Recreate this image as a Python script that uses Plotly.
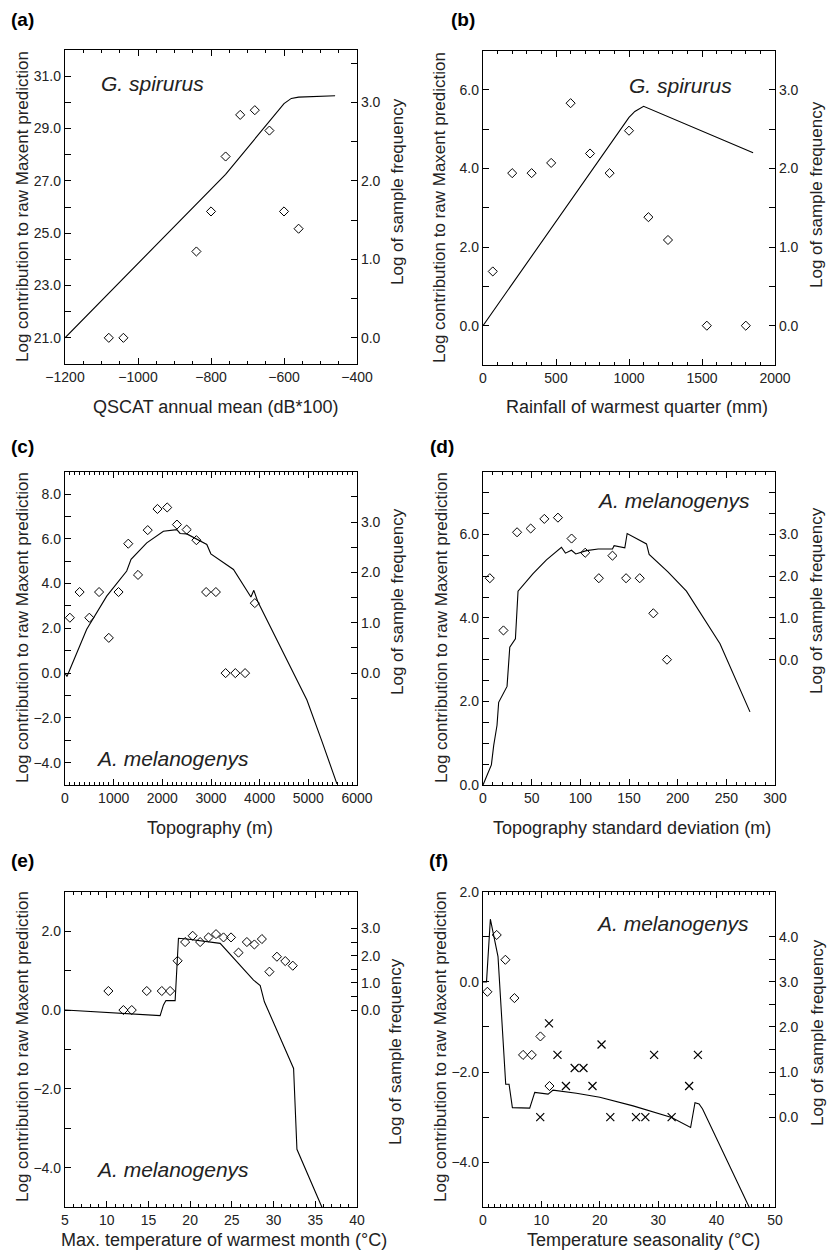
import plotly.graph_objects as go

# ---------------- data ----------------
# (a) QSCAT annual mean
a_line_x = [-1200, -1000, -760, -600, -580, -560, -460]
a_line_y = [21.0, 23.85, 27.25, 29.95, 30.15, 30.2, 30.25]
a_bins = [-1080, -1040, -840, -800, -760, -720, -680, -640, -600, -560]
a_freq = [0.0, 0.0, 1.10, 1.61, 2.31, 2.84, 2.90, 2.64, 1.61, 1.39]

# (b) Rainfall of warmest quarter
b_line_x = [0, 1000, 1040, 1100, 1850]
b_line_y = [0.0, 5.3, 5.45, 5.58, 4.4]
b_bins = [67, 200, 333, 467, 600, 733, 867, 1000, 1133, 1267, 1533, 1800]
b_freq = [0.69, 1.94, 1.94, 2.07, 2.83, 2.19, 1.94, 2.48, 1.38, 1.09, 0.0, 0.0]

# (c) Topography
c_line_x = [0, 40, 446, 857, 1268, 1357, 1680, 2022, 2297, 2365, 2503, 2708, 2914,
            2997, 3462, 3820, 3880, 3960, 4354, 4650, 4971, 5280, 5588]
c_line_y = [0.0, -0.15, 1.96, 3.44, 4.56, 5.08, 5.82, 6.34, 6.41, 6.24, 6.22, 5.97, 5.75,
            5.33, 4.63, 3.4, 3.7, 3.2, 1.51, 0.21, -1.2, -3.05, -4.95]
c_bins = [100, 300, 500, 700, 900, 1100, 1300, 1500, 1700, 1900, 2100, 2300, 2500,
          2700, 2900, 3100, 3300, 3500, 3700, 3900]
c_freq = [1.10, 1.61, 1.10, 1.61, 0.70, 1.61, 2.57, 1.95, 2.84, 3.26, 3.29, 2.95, 2.85,
          2.64, 1.61, 1.61, 0.0, 0.0, 0.0, 1.39]

# (d) Topography standard deviation
d_line_x = [0, 3.5, 8.6, 11, 14.4, 16.1, 24.7, 27.5, 33.3, 36, 51.4, 65.2, 80.6, 84.7,
            90.9, 95.3, 106.3, 118.3, 133, 134.7, 145.7, 148.1, 168, 170.7, 190, 209, 243.5, 274.3]
d_line_y = [0.0, 0.2, 0.48, 0.95, 1.43, 1.98, 2.36, 3.30, 3.5, 4.64, 5.06, 5.39, 5.69, 5.55,
            5.62, 5.53, 5.61, 5.65, 5.65, 5.73, 5.68, 6.02, 5.77, 5.52, 5.1, 4.64, 3.38, 1.75]
d_bins = [7, 21, 35, 49, 63, 77, 91, 105, 119, 133, 147, 161, 175, 189]
d_freq = [1.95, 0.70, 3.05, 3.14, 3.37, 3.40, 2.90, 2.56, 1.95, 2.49, 1.95, 1.95, 1.11, 0.0]

# (e) Max. temperature of warmest month
e_line_x = [5, 16.4, 16.8, 17.1, 18.2, 18.6, 19.6, 23.6, 27.6, 28.4, 28.9, 32.4, 32.8, 35.8]
e_line_y = [0.0, -0.14, 0.13, 0.24, 0.24, 1.82, 1.80, 1.69, 0.76, 0.62, 0.21, -1.48, -3.53, -5.0]
e_bins = [10.2, 12.0, 13.0, 14.8, 16.6, 17.6, 18.5, 19.4, 20.3, 21.2, 22.2, 23.1, 24.0,
          24.9, 25.8, 26.8, 27.7, 28.6, 29.5, 30.4, 31.4, 32.3]
e_freq = [0.70, 0.0, 0.0, 0.70, 0.70, 0.70, 1.81, 2.50, 2.73, 2.50, 2.67, 2.79, 2.67,
          2.67, 2.11, 2.50, 2.41, 2.61, 1.41, 1.96, 1.80, 1.63]

# (f) Temperature seasonality
f_line_x = [0, 0.6, 1.26, 2.57, 3.89, 4.46, 5.03, 8.0, 8.86, 11.15, 12.0, 16.0, 20.0,
            25.7, 32.3, 35.55, 36.3, 37.0, 37.6, 45.7]
f_line_y = [0.0, 0.0, 1.39, 0.56, -2.27, -2.27, -2.79, -2.80, -2.45, -2.49, -2.40, -2.47, -2.56,
            -2.75, -3.01, -3.23, -2.68, -2.71, -2.82, -5.03]
f_bins_d = [0.75, 2.35, 3.83, 5.38, 6.86, 8.35, 9.83, 11.38]
f_freq_d = [2.78, 4.04, 3.49, 2.64, 1.38, 1.38, 1.79, 0.69]
f_bins_x = [9.8, 11.3, 12.75, 14.2, 15.7, 17.2, 18.75, 20.3, 21.8, 26.2, 27.8, 29.3, 32.3, 35.3, 36.8]
f_freq_x = [0.0, 2.08, 1.38, 0.69, 1.09, 1.09, 0.69, 1.61, 0.0, 0.0, 0.0, 1.38, 0.0, 0.69, 1.38]

panel_labels = ["(a)", "(b)", "(c)", "(d)", "(e)", "(f)"]
species = ["G. spirurus", "G. spirurus", "A. melanogenys", "A. melanogenys",
           "A. melanogenys", "A. melanogenys"]
x_titles = ["QSCAT annual mean (dB*100)", "Rainfall of warmest quarter (mm)",
            "Topography (m)", "Topography standard deviation (m)",
            "Max. temperature of warmest month (°C)", "Temperature seasonality (°C)"]
left_title = "Log contribution to raw Maxent prediction"
right_title = "Log of sample frequency"

# ---------------- layout geometry ----------------
W, H = 833, 1253
FONT = "Liberation Sans, Arial, Helvetica, sans-serif"
TXT = "#222222"

panels = [
    dict(box=(65, 357, 50, 364), xr=[-1200, -400], xd=200, xm=50,
         lr=[20, 32], lt=[21, 23, 25, 27, 29, 31], lm=[20, 22, 24, 26, 28, 30, 32],
         rr=[-1/3, 11/3], rt=[0, 1, 2, 3], rm=[0.5, 1.5, 2.5, 3.5],
         lab=(22, 19), sp=(152, 83), ltx=22, lty=207, rtx=397, rty=192, xtx=215, xty=407),
    dict(box=(483, 775, 50.5, 365), xr=[0, 2000], xd=500, xm=100,
         lr=[-1, 7], lt=[0, 2, 4, 6], lm=[-1, 1, 3, 5, 7],
         rr=[-0.5, 3.5], rt=[0, 1, 2, 3], rm=[-0.5, 0.5, 1.5, 2.5, 3.5],
         lab=(463, 19), sp=(680, 85), ltx=439, lty=207, rtx=816, rty=195, xtx=637, xty=407),
    dict(box=(65, 357, 471.7, 785), xr=[0, 6000], xd=1000, xm=100,
         lr=[-5, 9], lt=[-4, -2, 0, 2, 4, 6, 8], lm=[-5, -3, -1, 1, 3, 5, 7, 9],
         rr=[-5/2.25, 4.0], rt=[0, 1, 2, 3], rm=[-0.5, 0.5, 1.5, 2.5, 3.5],
         lab=(22, 446), sp=(172, 758), ltx=22, lty=628, rtx=397, rty=602, xtx=210, xty=828),
    dict(box=(483, 775, 471.7, 785), xr=[0, 300], xd=50, xm=10,
         lr=[0, 7.5], lt=[0, 2, 4, 6], lm=[0.5, 1, 1.5, 2.5, 3, 3.5, 4.5, 5, 5.5, 6.5, 7, 7.5],
         rr=[-3, 4.5], rt=[0, 1, 2, 3], rm=[0.5, 1.5, 2.5, 3.5, 4.0],
         lab=(442, 446), sp=(673, 500), ltx=441, lty=628, rtx=816, rty=601, xtx=632, xty=828),
    dict(box=(65, 357, 891.7, 1207.3), xr=[5, 40], xd=5, xm=1,
         lr=[-5, 3], lt=[-4, -2, 0, 2], lm=[-5, -3, -1, 1, 3],
         rr=[-5*1.45, 3*1.45], rt=[0, 1, 2, 3], rm=[0.5, 1.5, 2.5],
         lab=(22, 860), sp=(172, 1169), ltx=22, lty=1047, rtx=395, rty=1052, xtx=224, xty=1240),
    dict(box=(483, 775, 891.7, 1207.3), xr=[0, 50], xd=10, xm=1,
         lr=[-5, 2], lt=[-4, -2, 0, 2], lm=[-5, -3, -1, 1],
         rr=[-2, 5], rt=[0, 1, 2, 3, 4], rm=[0.5, 1.5, 2.5, 3.5],
         lab=(438, 860), sp=(672, 923), ltx=440, lty=1047, rtx=817, rty=1033, xtx=643, xty=1240),
]

lines = [(a_line_x, a_line_y), (b_line_x, b_line_y), (c_line_x, c_line_y),
         (d_line_x, d_line_y), (e_line_x, e_line_y), (f_line_x, f_line_y)]
points = [(a_bins, a_freq), (b_bins, b_freq), (c_bins, c_freq),
          (d_bins, d_freq), (e_bins, e_freq), (f_bins_d, f_freq_d)]

fig = go.Figure()
layout = dict(template="none", width=W, height=H, autosize=False,
              margin=dict(l=0, r=0, t=0, b=0, pad=0, autoexpand=False),
              paper_bgcolor="white", plot_bgcolor="white", showlegend=False,
              font=dict(family=FONT, color=TXT, size=14))
annotations = []


def px(xp):
    return xp / W


def py(yp):
    return 1 - yp / H


tickfont = dict(family=FONT, size=14, color=TXT)


def ann(text, x, y, size, color=TXT, angle=0):
    return dict(text=text, x=px(x), y=py(y), xref="paper", yref="paper", showarrow=False,
                xanchor="center", yanchor="middle", textangle=angle, borderpad=0,
                font=dict(family=FONT, size=size, color=color))


for i, p in enumerate(panels):
    n = i + 1
    xa = "xaxis" if n == 1 else f"xaxis{n}"
    xref = "x" if n == 1 else f"x{n}"
    ly = 2 * n - 1
    ry = 2 * n
    lya = "yaxis" if ly == 1 else f"yaxis{ly}"
    lyref = "y" if ly == 1 else f"y{ly}"
    rya = f"yaxis{ry}"
    ryref = f"y{ry}"
    l, r, t, b = p["box"]

    layout[xa] = dict(domain=[px(l), px(r)], range=p["xr"], anchor=lyref, automargin=False,
                      tick0=p["xr"][0] if n == 5 else 0, dtick=p["xd"],
                      showline=True, linecolor="black", linewidth=1.3, mirror="ticks",
                      ticks="inside", ticklen=6, tickwidth=1, tickcolor="black",
                      minor=dict(ticks="inside", ticklen=3, tickwidth=1, tickcolor="black",
                                 dtick=p["xm"], tick0=0, showgrid=False),
                      showgrid=False, zeroline=False, tickfont=tickfont)
    layout[lya] = dict(domain=[py(b), py(t)], range=p["lr"], anchor=xref, automargin=False,
                       tickmode="array", tickvals=p["lt"], tickformat=".1f",
                       showline=True, linecolor="black", linewidth=1.3,
                       ticks="inside", ticklen=6, tickwidth=1, tickcolor="black",
                       minor=dict(ticks="inside", ticklen=6, tickwidth=1, tickcolor="black",
                                  tickmode="array", tickvals=p["lm"], showgrid=False),
                       showgrid=False, zeroline=False, tickfont=tickfont)
    layout[rya] = dict(overlaying=lyref, side="right", anchor=xref, range=p["rr"], automargin=False,
                       tickmode="array", tickvals=p["rt"], tickformat=".1f",
                       showline=True, linecolor="black", linewidth=1.3,
                       ticks="inside", ticklen=6, tickwidth=1, tickcolor="black",
                       minor=dict(ticks="inside", ticklen=6, tickwidth=1, tickcolor="black",
                                  tickmode="array", tickvals=p["rm"], showgrid=False),
                       showgrid=False, zeroline=False, tickfont=tickfont)

    lx, lyv = lines[i]
    fig.add_trace(go.Scatter(x=lx, y=lyv, mode="lines", xaxis=xref, yaxis=lyref,
                             line=dict(color="black", width=1.1), hoverinfo="skip"))
    bx, bf = points[i]
    fig.add_trace(go.Scatter(x=bx, y=bf, mode="markers", xaxis=xref, yaxis=ryref,
                             marker=dict(symbol="diamond-open", size=7, color="black",
                                         line=dict(width=1, color="black"))))
    if n == 6:
        fig.add_trace(go.Scatter(x=f_bins_x, y=f_freq_x, mode="markers", xaxis=xref, yaxis=ryref,
                                 marker=dict(symbol="x-thin-open", size=8, color="black",
                                             line=dict(width=1.2, color="black"))))

    annotations.append(ann(f"<b>{panel_labels[i]}</b>", p["lab"][0], p["lab"][1], 19, "black"))
    annotations.append(ann(f"<i>{species[i]}</i>", p["sp"][0], p["sp"][1], 21))
    annotations.append(ann(x_titles[i], p["xtx"], p["xty"], 18))
    annotations.append(ann(left_title, p["ltx"], p["lty"], 17, angle=-90))
    annotations.append(ann(right_title, p["rtx"], p["rty"], 17, angle=-90))

layout["annotations"] = annotations
fig.update_layout(**layout)
# remove the browser's default 8px body margin so the 833x1253 figure fills the window exactly
fig.write_html("out.html", config={"displayModeBar": False},
               post_script="document.body.style.margin='0';document.body.style.overflow='hidden';")
